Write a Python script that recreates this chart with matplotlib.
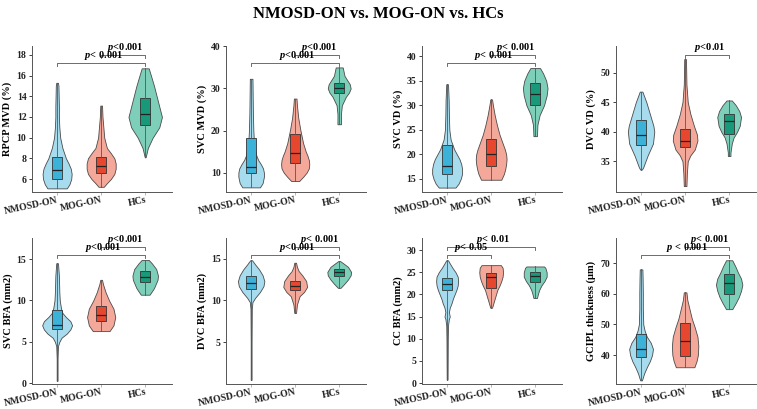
import matplotlib
matplotlib.use("Agg")
import matplotlib.pyplot as plt
import matplotlib.transforms as mtransforms

plt.rcParams["font.family"] = ["Liberation Serif", "DejaVu Serif"]
plt.rcParams["font.weight"] = "bold"
plt.rcParams["mathtext.fontset"] = "custom"
plt.rcParams["mathtext.bfit"] = "Liberation Serif:italic:bold"
plt.rcParams["mathtext.it"] = "Liberation Serif:italic:bold"
plt.rcParams["mathtext.rm"] = "Liberation Serif:bold"

groups = ["NMOSD-ON", "MOG-ON", "HCs"]
ylabels = ["RPCP MVD (%)", "SVC MVD (%)", "SVC VD (%)", "DVC VD (%)",
           "SVC BFA (mm2)", "DVC BFA (mm2)", "CC BFA (mm2)", "GCIPL thickness (\u03bcm)"]

# violin profiles: y values and half-widths per group
rpcp_y = [[5.1, 5.5, 6.0, 6.5, 7.0, 7.5, 8.0, 9.0, 10.0, 11.0, 12.0, 13.0, 14.0, 15.0, 15.3],
          [5.25, 5.6, 6.0, 6.5, 7.0, 7.5, 8.0, 8.5, 9.0, 10.0, 11.0, 12.0, 13.1],
          [8.1, 9.0, 10.0, 11.0, 12.0, 13.0, 14.0, 15.0, 16.0, 16.7]]
rpcp_w = [[0.22, 0.28, 0.32, 0.33, 0.31, 0.26, 0.2, 0.12, 0.07, 0.05, 0.04, 0.04, 0.035, 0.03, 0.02],
          [0.06, 0.13, 0.22, 0.3, 0.33, 0.33, 0.3, 0.22, 0.13, 0.07, 0.05, 0.03, 0.02],
          [0.01, 0.06, 0.17, 0.32, 0.38, 0.32, 0.26, 0.2, 0.13, 0.08]]

svcmvd_y = [[6.5, 7.5, 9, 10, 11, 12, 13, 14, 16, 18, 20, 24, 28, 32.3],
            [8, 9, 10, 11, 12, 13, 14, 15, 17, 20, 23, 26, 27.6],
            [21.5, 24, 26, 28, 29, 30, 31, 32, 33, 34, 35]]
svcmvd_w = [[0.2, 0.26, 0.29, 0.29, 0.27, 0.22, 0.16, 0.12, 0.08, 0.06, 0.05, 0.04, 0.035, 0.03],
            [0.09, 0.18, 0.26, 0.31, 0.32, 0.31, 0.28, 0.24, 0.18, 0.12, 0.07, 0.04, 0.03],
            [0.04, 0.04, 0.06, 0.15, 0.22, 0.26, 0.24, 0.18, 0.12, 0.1, 0.08]]

svcvd_y = [[13.2, 14, 15, 16, 17, 18, 19, 20, 21, 22, 23, 25, 28, 31, 34.3],
           [14.8, 16, 17, 18, 19, 20, 21, 22, 24, 26, 28, 30, 31.2],
           [23.7, 26, 28, 30, 32, 33.5, 35, 36.5, 37.6]]
svcvd_w = [[0.19, 0.26, 0.31, 0.34, 0.34, 0.32, 0.28, 0.22, 0.16, 0.12, 0.08, 0.05, 0.04, 0.035, 0.02],
           [0.23, 0.29, 0.32, 0.34, 0.35, 0.34, 0.31, 0.27, 0.19, 0.13, 0.08, 0.04, 0.02],
           [0.04, 0.05, 0.1, 0.2, 0.26, 0.28, 0.25, 0.18, 0.11]]

dvcvd_y = [[33.6, 34, 36, 38, 40, 41, 43, 45, 46.8],
           [30.8, 33, 35, 36, 37, 38.5, 39.5, 41, 43, 45, 48, 52.3],
           [35.9, 36.5, 38, 39, 40, 41, 42.5, 43.5, 44.5, 45.3]]
dvcvd_w = [[0.02, 0.05, 0.15, 0.27, 0.3, 0.28, 0.2, 0.12, 0.03],
           [0.03, 0.04, 0.06, 0.12, 0.22, 0.28, 0.27, 0.2, 0.12, 0.06, 0.03, 0.02],
           [0.03, 0.03, 0.06, 0.1, 0.18, 0.24, 0.27, 0.23, 0.15, 0.06]]

svcbfa_y = [[0.3, 3, 4.5, 5, 5.5, 6, 6.5, 7, 7.5, 8, 8.5, 9, 10, 11, 12, 13, 14.5],
            [6.3, 7, 8, 9, 10, 11, 12, 12.5],
            [10.7, 11.5, 12.5, 13, 13.8, 14.5, 14.9]]
svcbfa_w = [[0.01, 0.01, 0.02, 0.05, 0.1, 0.22, 0.3, 0.34, 0.3, 0.2, 0.12, 0.09, 0.06, 0.05, 0.045, 0.04, 0.02],
            [0.19, 0.28, 0.32, 0.28, 0.18, 0.1, 0.04, 0.02],
            [0.1, 0.2, 0.28, 0.29, 0.25, 0.15, 0.08]]

dvcbfa_y = [[0.5, 5, 9, 9.8, 10.3, 11, 11.7, 12.3, 13, 13.7, 14.3, 14.8],
            [8.5, 9.5, 10.5, 11, 11.6, 12.3, 13, 13.5, 14, 14.5],
            [11.5, 12, 12.5, 13, 13.4, 14, 14.4, 14.7]]
dvcbfa_w = [[0.01, 0.01, 0.015, 0.03, 0.09, 0.2, 0.28, 0.3, 0.26, 0.18, 0.09, 0.02],
            [0.02, 0.04, 0.1, 0.2, 0.27, 0.25, 0.16, 0.08, 0.04, 0.02],
            [0.03, 0.12, 0.2, 0.26, 0.27, 0.2, 0.1, 0.02]]

ccbfa_y = [[0.8, 10, 13, 14.5, 15, 16, 17, 18, 19, 20, 21, 22, 23, 24, 25, 26, 27, 27.7],
           [17, 18, 19, 20, 21, 22, 23, 24, 25, 26, 26.6],
           [19.2, 20, 21, 22, 23, 24, 25, 26, 26.3]]
ccbfa_w = [[0.01, 0.015, 0.02, 0.04, 0.06, 0.04, 0.06, 0.1, 0.13, 0.17, 0.21, 0.24, 0.25, 0.24, 0.19, 0.12, 0.06, 0.02],
           [0.02, 0.05, 0.08, 0.11, 0.14, 0.19, 0.23, 0.26, 0.27, 0.26, 0.22],
           [0.04, 0.06, 0.09, 0.14, 0.21, 0.26, 0.26, 0.23, 0.2]]

gcipl_y = [[31.7, 34, 36, 38, 40, 42, 44, 46, 48, 50, 55, 60, 65, 68],
           [36, 38, 40, 43, 46, 49, 52, 55, 58, 60.5],
           [55, 57, 59, 61, 63, 65, 67, 69, 71]]
gcipl_w = [[0.02, 0.07, 0.13, 0.2, 0.25, 0.27, 0.22, 0.13, 0.08, 0.05, 0.04, 0.04, 0.035, 0.03],
           [0.21, 0.26, 0.29, 0.3, 0.28, 0.22, 0.15, 0.1, 0.05, 0.03],
           [0.07, 0.15, 0.22, 0.27, 0.3, 0.27, 0.2, 0.14, 0.07]]

# box stats: q1, median, q3
rpcp_box = [[6.05, 6.9, 8.15], [6.6, 7.25, 8.1], [11.2, 12.3, 13.85]]
svcmvd_box = [[10.0, 11.3, 18.3], [12.3, 14.7, 19.1], [29.0, 30.0, 31.2]]
svcvd_box = [[15.9, 17.7, 21.9], [17.7, 20.0, 23.2], [30.0, 32.4, 34.5]]
dvcvd_box = [[37.8, 39.4, 42.0], [37.5, 38.5, 40.5], [39.7, 41.8, 43.0]]
svcbfa_box = [[6.6, 7.05, 8.8], [7.55, 8.2, 9.35], [12.2, 12.85, 13.55]]
dvcbfa_box = [[11.35, 12.05, 12.95], [11.3, 11.7, 12.35], [12.95, 13.4, 13.8]]
ccbfa_box = [[20.9, 22.3, 23.7], [21.4, 23.9, 24.9], [22.9, 24.2, 25.0]]
gcipl_box = [[39.4, 42.0, 47.0], [39.7, 44.6, 50.4], [60.0, 63.5, 66.5]]

ylims = [(4.75, 18.9), (5.4, 40.2), (12.3, 42.2), (29.8, 54.6),
         (-0.1, 17.6), (0.0, 17.5), (-0.2, 32.8), (30.5, 78.4)]
yticks = [[6, 8, 10, 12, 14, 16, 18], [10, 20, 30, 40], [15, 20, 25, 30, 35, 40], [35, 40, 45, 50],
          [0, 5, 10, 15], [5, 10, 15], [0, 5, 10, 15, 20, 25, 30], [40, 50, 60, 70]]

# significance brackets: (x1, x2, level, label)
sig = [[(1, 3, 0, "$\\mathbfit{p}$< 0.001"), (2, 3, 1, "$\\mathbfit{p}$<0.001")],
       [(1, 3, 0, "$\\mathbfit{p}$<0.001"), (2, 3, 1, "$\\mathbfit{p}$<0.001")],
       [(1, 3, 0, "$\\mathbfit{p}$< 0.001"), (2, 3, 1, "$\\mathbfit{p}$< 0.001")],
       [(2, 3, 1, "$\\mathbfit{p}$<0.01")],
       [(1, 3, 0, "$\\mathbfit{p}$<0.001"), (2, 3, 1, "$\\mathbfit{p}$<0.001")],
       [(1, 3, 0, "$\\mathbfit{p}$<0.001"), (2, 3, 1, "$\\mathbfit{p}$< 0.001")],
       [(1, 2, 0, "$\\mathbfit{p}$< 0.05"), (1, 3, 1, "$\\mathbfit{p}$< 0.01")],
       [(1, 3, 0, "$\\mathbfit{p}$ < 0.001"), (2, 3, 1, "$\\mathbfit{p}$< 0.001")]]

profiles_y = [rpcp_y, svcmvd_y, svcvd_y, dvcvd_y, svcbfa_y, dvcbfa_y, ccbfa_y, gcipl_y]
profiles_w = [rpcp_w, svcmvd_w, svcvd_w, dvcvd_w, svcbfa_w, dvcbfa_w, ccbfa_w, gcipl_w]
boxes = [rpcp_box, svcmvd_box, svcvd_box, dvcvd_box, svcbfa_box, dvcbfa_box, ccbfa_box, gcipl_box]

VIOLIN = ["#a7dcef", "#f4a899", "#7dcfba"]
BOXC = ["#3db2d9", "#e8472f", "#17997a"]
EDGE = "#4a4a4a"

fig = plt.figure(figsize=(7.57, 4.09), dpi=100)
lefts = [0.0423, 0.2986, 0.5575, 0.8137]
bottoms = [0.5306, 0.061]
W, H = 0.185, 0.358

for k in range(8):
    ax = fig.add_axes([lefts[k % 4], bottoms[k // 4], W, H])
    pos = [1, 2, 3]
    vp = []
    widths = []
    for g in range(3):
        ys, ws = profiles_y[k][g], profiles_w[k][g]
        q1, med, q3 = boxes[k][g]
        vp.append(dict(coords=ys, vals=ws, mean=med, median=med, min=ys[0], max=ys[-1]))
        widths.append(2 * max(ws))
    parts = ax.violin(vp, positions=pos, widths=widths, showmeans=False,
                      showextrema=False, showmedians=False)
    for g, body in enumerate(parts["bodies"]):
        body.set_facecolor(VIOLIN[g])
        body.set_edgecolor(EDGE)
        body.set_linewidth(0.6)
        body.set_alpha(1)
        body.set_zorder(2)
    for g in range(3):
        q1, med, q3 = boxes[k][g]
        st = [dict(med=med, q1=q1, q3=q3, whislo=profiles_y[k][g][0],
                   whishi=profiles_y[k][g][-1], fliers=[])]
        ax.bxp(st, positions=[g + 1], widths=0.22, patch_artist=True, showcaps=False,
               showfliers=False, manage_ticks=False,
               boxprops=dict(facecolor=BOXC[g], edgecolor="#333333", linewidth=0.6),
               whiskerprops=dict(color="#555555", linewidth=0.6),
               medianprops=dict(color="#222222", linewidth=0.9), zorder=3)

    ax.set_xlim(0.43, 3.61)
    ax.set_ylim(*ylims[k])
    ax.set_yticks(yticks[k])
    ax.set_xticks(pos)
    ax.set_xticklabels(groups, rotation=12, fontsize=7, fontweight="bold",
                       ha="right", va="top", rotation_mode="anchor")
    shift = mtransforms.ScaledTranslation(5 / 72, 0, fig.dpi_scale_trans)
    for lab in ax.get_xticklabels():
        lab.set_transform(lab.get_transform() + shift)
    ax.tick_params(axis="y", labelsize=7, length=2, width=0.6, pad=2, colors="#222222")
    ax.tick_params(axis="x", length=2, width=0.5, pad=0.5, colors="#999999", labelcolor="#222222")
    for lab in ax.get_yticklabels():
        lab.set_fontweight("bold")
    ax.set_ylabel(ylabels[k], fontsize=7.5, fontweight="bold", labelpad=3)
    for s in ["top", "right"]:
        ax.spines[s].set_visible(False)
    for s in ["left", "bottom"]:
        ax.spines[s].set_color("#555555")
        ax.spines[s].set_linewidth(0.7)

    trans = mtransforms.blended_transform_factory(ax.transData, ax.transAxes)
    for x1, x2, lvl, lab in sig[k]:
        yl = 0.88 if lvl == 0 else 0.937
        ax.plot([x1, x1, x2, x2], [yl - 0.02, yl, yl, yl - 0.02], color="#555555",
                lw=0.6, transform=trans, clip_on=False)
        ax.text((x1 + x2) / 2 + 0.05, yl + 0.005, lab, transform=trans, ha="center",
                va="bottom", fontsize=7.5, fontweight="bold")

fig.text(0.5, 0.985, "NMOSD-ON vs. MOG-ON vs. HCs", ha="center", va="top",
         fontsize=12, fontweight="bold")

fig.savefig("out.png", dpi=100)
